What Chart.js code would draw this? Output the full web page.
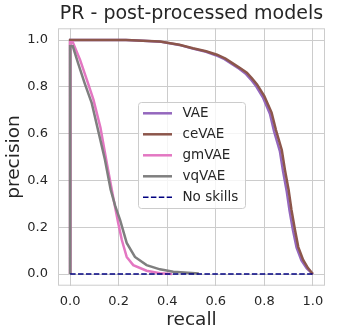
<!DOCTYPE html>
<html>
<head>
<meta charset="utf-8">
<script src="https://cdn.jsdelivr.net/npm/chart.js@4"></script>
<style>
  html, body { margin: 0; padding: 0; background: #ffffff; }
  #wrap { width: 338px; height: 335px; }
</style>
</head>
<body>
<div id="wrap"><canvas id="prChart" width="338" height="335"></canvas></div>
<script>
// PR curves
const seriesNames = ['VAE', 'ceVAE', 'gmVAE', 'vqVAE', 'No skills'];
const seriesColors = ['#9467bd', '#8c564b', '#e377c2', '#7f7f7f', '#000080'];

const vaeRecall = [0, 0, 0.23, 0.30, 0.37, 0.45, 0.505, 0.56, 0.60, 0.636, 0.666, 0.695, 0.722, 0.744, 0.764, 0.794, 0.823, 0.84, 0.864, 0.877, 0.892, 0.904, 0.918, 0.933, 0.953, 0.975, 1.0];
const vaePrecision = [0, 1.0, 1.0, 0.997, 0.993, 0.979, 0.963, 0.95, 0.935, 0.918, 0.898, 0.878, 0.857, 0.832, 0.806, 0.755, 0.685, 0.61, 0.525, 0.44, 0.355, 0.27, 0.187, 0.113, 0.058, 0.024, 0.0];

const ceRecall = [0, 0, 0.23, 0.30, 0.37, 0.45, 0.506, 0.56, 0.605, 0.64, 0.67, 0.70, 0.728, 0.75, 0.77, 0.80, 0.83, 0.848, 0.872, 0.885, 0.90, 0.912, 0.926, 0.94, 0.96, 0.98, 1.0];
const cePrecision = [0, 1.0, 1.0, 0.997, 0.994, 0.98, 0.965, 0.952, 0.937, 0.92, 0.90, 0.88, 0.86, 0.835, 0.81, 0.76, 0.69, 0.615, 0.53, 0.445, 0.36, 0.274, 0.19, 0.115, 0.06, 0.025, 0.0];

const gmRecall = [0, 0, 0.011, 0.041, 0.069, 0.096, 0.125, 0.151, 0.177, 0.198, 0.213, 0.233, 0.26, 0.315, 0.37, 0.42];
const gmPrecision = [0, 0.99, 0.99, 0.915, 0.83, 0.745, 0.625, 0.475, 0.33, 0.218, 0.145, 0.073, 0.038, 0.014, 0.003, 0.0];

const vqRecall = [0, 0, 0.011, 0.033, 0.06, 0.089, 0.115, 0.143, 0.167, 0.186, 0.206, 0.233, 0.267, 0.315, 0.37, 0.425, 0.53];
const vqPrecision = [0, 0.973, 0.973, 0.9, 0.815, 0.73, 0.615, 0.49, 0.36, 0.29, 0.23, 0.133, 0.073, 0.038, 0.02, 0.01, 0.002];

const noSkillRecall = [0, 1];
const noSkillPrecision = [0, 0];

const tickValues = [0, 0.2, 0.4, 0.6, 0.8, 1.0];
const tickLabels = ['0.0', '0.2', '0.4', '0.6', '0.8', '1.0'];

const FONT = "'DejaVu Sans', 'Liberation Sans', sans-serif";
const TEXT = '#262626';
const GRID = '#cccccc';

function toPoints(xs, ys) {
    return xs.map((x, i) => ({ x: x, y: ys[i] }));
}

function fixTicks(scale) {
    scale.ticks = tickValues.map(v => ({ value: v }));
}

// full frame round the plot, like the matplotlib axes
const framePlugin = {
    id: 'frame',
    beforeDatasetsDraw(chart) {
        const a = chart.chartArea;
        const ctx = chart.ctx;
        ctx.save();
        ctx.strokeStyle = GRID;
        ctx.lineWidth = 1;
        ctx.strokeRect(a.left + 0.5, a.top + 0.5, a.right - a.left - 1, a.bottom - a.top - 1);
        ctx.restore();
    }
};

// legend box inside the plot
const insideLegend = {
    id: 'insideLegend',
    afterDraw(chart) {
        const ctx = chart.ctx;
        const x0 = 138.5, y0 = 102.5, w = 107, h = 106, r = 3;
        ctx.save();
        ctx.beginPath();
        ctx.roundRect(x0, y0, w, h, r);
        ctx.fillStyle = 'rgba(255,255,255,0.8)';
        ctx.fill();
        ctx.strokeStyle = GRID;
        ctx.lineWidth = 1;
        ctx.stroke();

        ctx.font = '13.5px ' + FONT;
        ctx.textBaseline = 'middle';
        ctx.textAlign = 'left';
        chart.data.datasets.forEach((ds, i) => {
            const y = 113.3 + i * 21;
            ctx.beginPath();
            ctx.strokeStyle = ds.borderColor;
            ctx.lineWidth = ds.borderWidth;
            ctx.setLineDash(ds.borderDash || []);
            ctx.moveTo(143, y);
            ctx.lineTo(172, y);
            ctx.stroke();
            ctx.setLineDash([]);
            ctx.fillStyle = TEXT;
            ctx.fillText(ds.label, 182.5, y + 0.5);
        });
        ctx.restore();
    }
};

function makeSet(i, xs, ys, order) {
    return {
        label: seriesNames[i],
        data: toPoints(xs, ys),
        borderColor: seriesColors[i],
        backgroundColor: seriesColors[i],
        borderWidth: 2.5,
        showLine: true,
        pointRadius: 0,
        tension: 0,
        order: order
    };
}

const datasets = [
    makeSet(0, vaeRecall, vaePrecision, 5),
    makeSet(1, ceRecall, cePrecision, 4),
    makeSet(2, gmRecall, gmPrecision, 3),
    makeSet(3, vqRecall, vqPrecision, 2),
    Object.assign(makeSet(4, noSkillRecall, noSkillPrecision, 1), { borderWidth: 1.5, borderDash: [5.5, 2.4] })
];

new Chart(document.getElementById('prChart'), {
    type: 'scatter',
    data: { datasets: datasets },
    options: {
        responsive: false,
        animation: false,
        devicePixelRatio: 1,
        layout: { padding: { left: 0, right: 13, top: 0, bottom: 0 } },
        plugins: {
            legend: { display: false },
            tooltip: { enabled: false },
            title: {
                display: true,
                fullSize: false,
                text: 'PR - post-processed models',
                color: TEXT,
                font: { family: FONT, size: 19, weight: 'normal' },
                padding: { top: 3, bottom: 2.5 }
            }
        },
        scales: {
            x: {
                type: 'linear',
                min: -0.05,
                max: 1.05,
                afterBuildTicks: fixTicks,
                afterFit: s => { s.height = 49.3; },
                grid: { color: GRID, lineWidth: 1, drawTicks: false },
                border: { display: false },
                ticks: {
                    color: TEXT,
                    padding: 8,
                    font: { family: FONT, size: 13 },
                    callback: (v) => tickLabels[tickValues.indexOf(v)]
                },
                title: {
                    display: true,
                    text: 'recall',
                    color: TEXT,
                    font: { family: FONT, size: 18.5 },
                    padding: { top: 0, bottom: 3.5 }
                }
            },
            y: {
                type: 'linear',
                min: -0.05,
                max: 1.05,
                afterBuildTicks: fixTicks,
                afterFit: s => { s.width = 58; },
                grid: { color: GRID, lineWidth: 1, drawTicks: false },
                border: { display: false },
                ticks: {
                    color: TEXT,
                    padding: 10,
                    font: { family: FONT, size: 13 },
                    callback: (v) => tickLabels[tickValues.indexOf(v)]
                },
                title: {
                    display: true,
                    text: 'precision',
                    color: TEXT,
                    font: { family: FONT, size: 18.5 },
                    padding: { top: 3, bottom: 0 }
                }
            }
        }
    },
    plugins: [framePlugin, insideLegend]
});
</script>
</body>
</html>
